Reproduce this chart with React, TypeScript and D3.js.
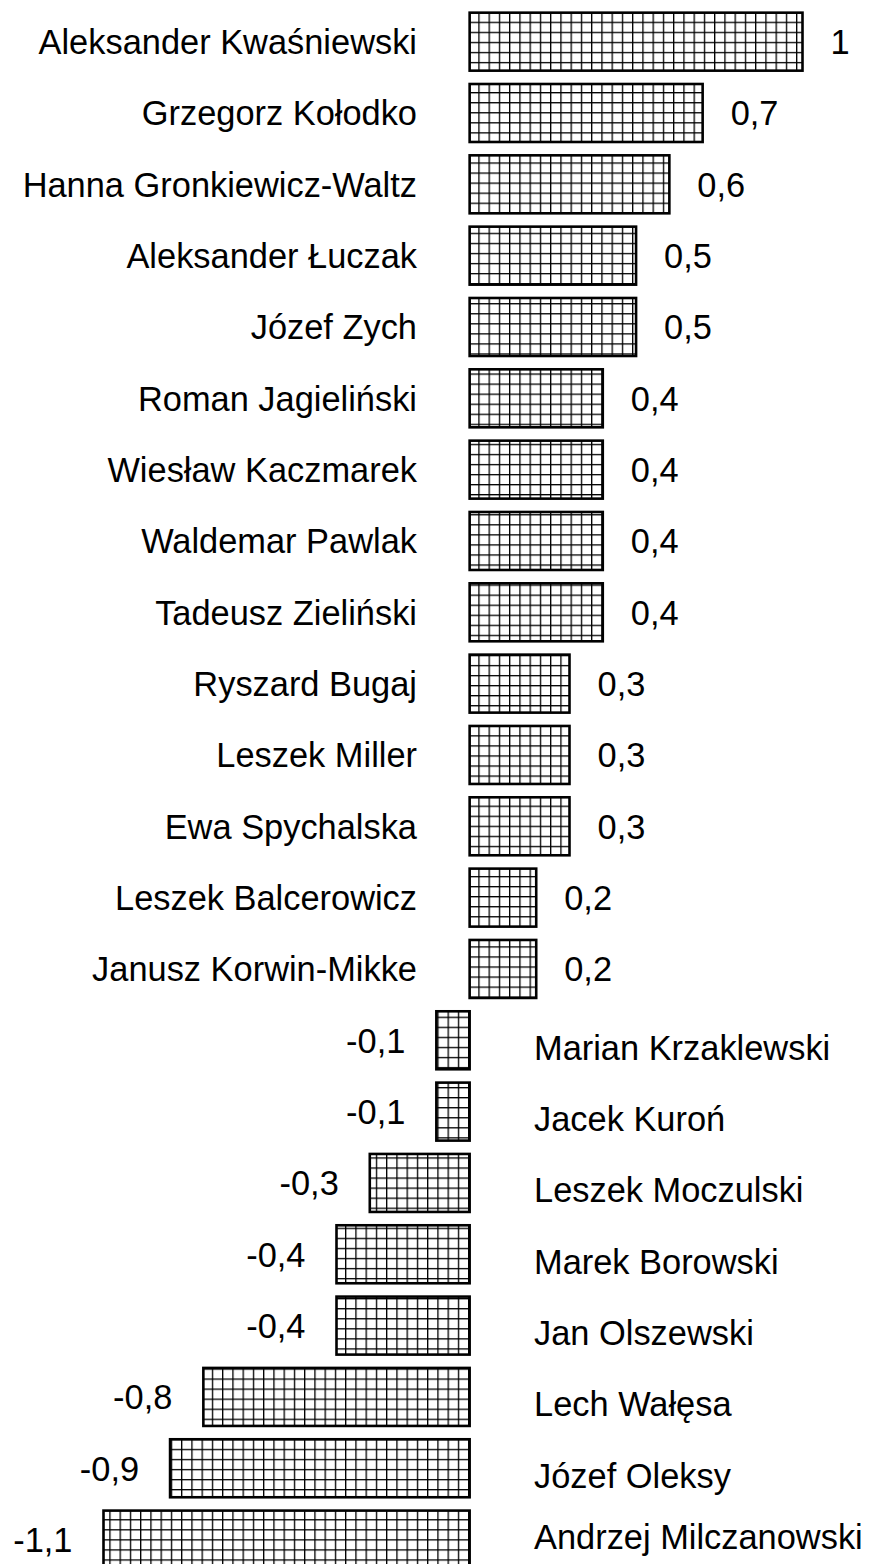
import React, { useEffect, useRef } from 'react';
import * as d3 from 'd3';

const names = [
  'Aleksander Kwaśniewski',
  'Grzegorz Kołodko',
  'Hanna Gronkiewicz-Waltz',
  'Aleksander Łuczak',
  'Józef Zych',
  'Roman Jagieliński',
  'Wiesław Kaczmarek',
  'Waldemar Pawlak',
  'Tadeusz Zieliński',
  'Ryszard Bugaj',
  'Leszek Miller',
  'Ewa Spychalska',
  'Leszek Balcerowicz',
  'Janusz Korwin-Mikke',
  'Marian Krzaklewski',
  'Jacek Kuroń',
  'Leszek Moczulski',
  'Marek Borowski',
  'Jan Olszewski',
  'Lech Wałęsa',
  'Józef Oleksy',
  'Andrzej Milczanowski',
];

const values = [
  1, 0.7, 0.6, 0.5, 0.5, 0.4, 0.4, 0.4, 0.4, 0.3, 0.3, 0.3, 0.2, 0.2,
  -0.1, -0.1, -0.3, -0.4, -0.4, -0.8, -0.9, -1.1,
];

const fmt = (v: number) => String(v).replace('.', ',');

const App = () => {
  const svgRef = useRef<SVGSVGElement>(null);

  useEffect(() => {
    const width = 871;
    const height = 1564;
    const fontSize = 34.4;
    const font = '"Liberation Sans", Arial, sans-serif';

    const data = names.map((name, i) => ({ name, value: values[i] }));

    const svg = d3.select(svgRef.current);
    svg.selectAll('*').remove();
    svg.attr('width', width).attr('height', height);

    // grid hatch, anchored to the page like the old Excel fill
    const pw = 10.25;
    const ph = 10.05;
    const pat = svg
      .append('defs')
      .append('pattern')
      .attr('id', 'grid-pat')
      .attr('patternUnits', 'userSpaceOnUse')
      .attr('x', 109.3)
      .attr('y', 21.7)
      .attr('width', pw)
      .attr('height', ph);
    pat.append('rect').attr('width', pw).attr('height', ph).attr('fill', '#fff');
    pat
      .append('rect')
      .attr('x', 0).attr('y', 0).attr('width', pw).attr('height', 1.3)
      .attr('fill', '#000');
    pat
      .append('rect')
      .attr('x', 0).attr('y', 0).attr('width', 1.3).attr('height', ph)
      .attr('fill', '#000');

    // scales
    const x = d3.scaleLinear().domain([-1.1, 1]).range([103.5, 802.5]);
    const y = d3
      .scaleBand()
      .domain(names)
      .range([6, 6 + 22 * 71.33])
      .paddingInner(0.187)
      .paddingOuter(0.0935);

    const bh = y.bandwidth();

    // bars
    svg
      .selectAll('.bar')
      .data(data)
      .enter()
      .append('rect')
      .attr('class', 'bar')
      .attr('x', (d) => x(Math.min(0, d.value)))
      .attr('y', (d) => y(d.name) as number)
      .attr('width', (d) => Math.abs(x(d.value) - x(0)))
      .attr('height', bh)
      .attr('fill', 'url(#grid-pat)')
      .attr('stroke', '#000')
      .attr('stroke-width', 2.6);

    // name labels
    svg
      .selectAll('.name')
      .data(data)
      .enter()
      .append('text')
      .attr('class', 'name')
      .attr('x', (d) => (d.value >= 0 ? 417 : 534))
      .attr('y', (d) =>
        Math.min(
          (y(d.name) as number) + bh / 2 + fontSize * 0.36 + (d.value >= 0 ? 0 : 7),
          height - 15
        )
      )
      .attr('text-anchor', (d) => (d.value >= 0 ? 'end' : 'start'))
      .attr('font-family', font)
      .attr('font-size', fontSize)
      .attr('fill', '#000')
      .text((d) => d.name);

    // value labels
    svg
      .selectAll('.val')
      .data(data)
      .enter()
      .append('text')
      .attr('class', 'val')
      .attr('x', (d) => (d.value >= 0 ? x(d.value) + 28 : x(d.value) - 31))
      .attr('y', (d) => (y(d.name) as number) + bh / 2 + fontSize * 0.36)
      .attr('text-anchor', (d) => (d.value >= 0 ? 'start' : 'end'))
      .attr('font-family', font)
      .attr('font-size', fontSize)
      .attr('fill', '#000')
      .text((d) => fmt(d.value));
  }, []);

  return (
    <div style={{ position: 'absolute', left: 0, top: 0, background: '#fff' }}>
      <svg ref={svgRef} style={{ display: 'block' }}></svg>
    </div>
  );
};

export default App;
